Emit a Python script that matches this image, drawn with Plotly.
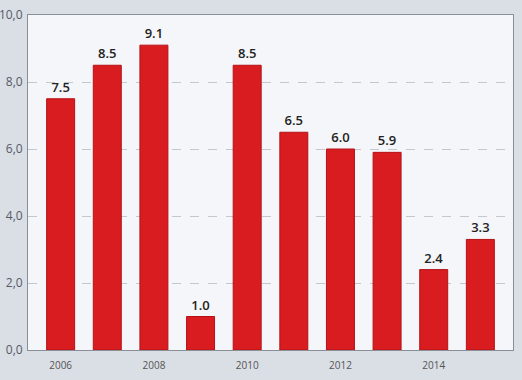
import plotly.graph_objects as go

years = [2006, 2007, 2008, 2009, 2010, 2011, 2012, 2013, 2014, 2015]
values = [7.5, 8.5, 9.1, 1.0, 8.5, 6.5, 6.0, 5.9, 2.4, 3.3]
labels = ["7.5", "8.5", "9.1", "1.0", "8.5", "6.5", "6.0", "5.9", "2.4", "3.3"]
x_ticks = [2006, 2008, 2010, 2012, 2014]
y_ticks = [0, 2, 4, 6, 8, 10]

fig = go.Figure(go.Bar(
    x=years, y=values, width=0.6,
    marker=dict(color="#d81c1f", line=dict(color="#b51217", width=1)),
    text=labels, textposition="outside", cliponaxis=False,
    textfont=dict(family="Open Sans, Arial", size=13, color="#222222", weight=600),
))

fig.update_layout(
    width=522, height=380,
    margin=dict(l=28, r=9, t=15, b=30, pad=0),
    paper_bgcolor="#dadee5",
    plot_bgcolor="#f4f6f9",
    separators=",.",
    showlegend=False,
    xaxis=dict(
        range=[2005.3, 2015.7], tickvals=x_ticks, ticks="", automargin=False,
        ticklabelstandoff=6,
        tickfont=dict(family="Open Sans, Arial", size=10, color="#555555"),
        showgrid=False, showline=True, linecolor="#8a8e96", linewidth=1, mirror=True,
        zeroline=False,
    ),
    yaxis=dict(
        range=[0, 10], tickvals=y_ticks, tickformat=".1f", ticks="", automargin=False,
        ticklabelstandoff=2,
        tickfont=dict(family="Open Sans, Arial", size=12, color="#555a66"),
        showgrid=True, gridcolor="#c4c7cc", griddash="dash", gridwidth=1,
        showline=True, linecolor="#8a8e96", linewidth=1, mirror=True,
        zeroline=False,
    ),
)

fig.write_html("out.html")
